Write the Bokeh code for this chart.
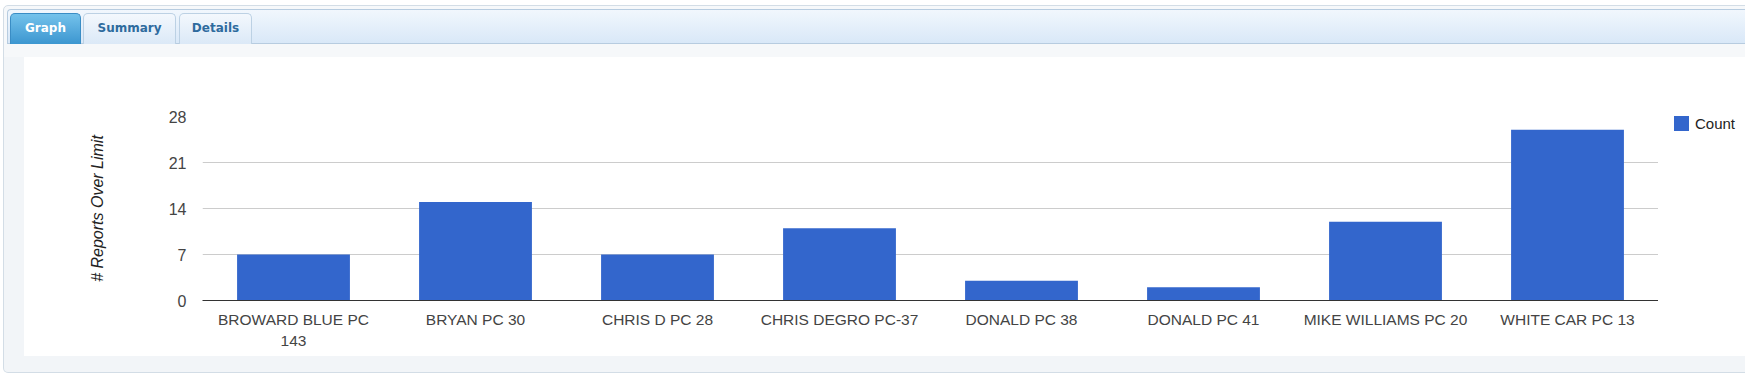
import json
from bokeh.plotting import figure
from bokeh.models import (Range1d, FixedTicker, ColumnDataSource,
                          CategoricalAxis, Div, CustomJSTickFormatter)
from bokeh.layouts import column, row
from bokeh.embed import file_html
from bokeh.resources import INLINE

# ---------------- data ----------------
categories = ["BROWARD BLUE PC 143", "BRYAN PC 30", "CHRIS D PC 28",
              "CHRIS DEGRO PC-37", "DONALD PC 38", "DONALD PC 41",
              "MIKE WILLIAMS PC 20", "WHITE CAR PC 13"]
counts = [7, 15, 7, 11, 3, 2, 12, 26]
y_ticks = [0, 7, 14, 21, 28]
tab_names = ["Graph", "Summary", "Details"]
series_name = "Count"
y_title = "# Reports Over Limit"
# first category label wraps onto two lines in the reference
label_line1 = {categories[0]: "BROWARD BLUE PC"}
label_line2 = {categories[0]: "143"}

FONT = "Liberation Sans"
BAR = "#3366cc"
GRAY = "#f2f5f8"
EDGE = "#d3dde6"

src = ColumnDataSource(dict(cat=categories, count=counts))

p = figure(x_range=categories, y_range=Range1d(0, 28),
           width=1634, height=299, output_backend="svg", toolbar_location=None,
           min_border_left=178, min_border_right=0, min_border_top=59,
           min_border_bottom=56, margin=0)
p.outline_line_color = None
p.border_fill_color = "#ffffff"
p.background_fill_color = "#ffffff"

p.vbar(x="cat", top="count", width=0.62, source=src,
       fill_color=BAR, line_color=None)

# x axis (first line of labels)
p.xaxis.axis_line_color = "#333333"
p.xaxis.major_tick_line_color = None
p.xaxis.minor_tick_line_color = None
p.xaxis.major_label_standoff = 4
p.xaxis.major_label_text_font = FONT
p.xaxis.major_label_text_font_size = "15.5px"
p.xaxis.major_label_text_color = "#444444"
p.xaxis.formatter = CustomJSTickFormatter(
    code=f"const m = {json.dumps(label_line1)}; return (tick in m) ? m[tick] : tick;")

# second line of the wrapped label
ax2 = CategoricalAxis(axis_line_color=None, major_tick_line_color=None,
                      minor_tick_line_color=None, major_label_standoff=-1,
                      major_label_text_font=FONT,
                      major_label_text_font_size="15.5px",
                      major_label_text_color="#444444",
                      formatter=CustomJSTickFormatter(
                          code=f"const m = {json.dumps(label_line2)}; return (tick in m) ? m[tick] : '';"))
p.add_layout(ax2, "below")

# y axis
p.yaxis.ticker = FixedTicker(ticks=y_ticks)
p.yaxis.axis_line_color = None
p.yaxis.major_tick_line_color = None
p.yaxis.minor_tick_line_color = None
p.yaxis.major_tick_out = 0
p.yaxis.major_label_standoff = 16
p.yaxis.major_label_text_font = FONT
p.yaxis.major_label_text_font_size = "16px"
p.yaxis.major_label_text_color = "#444444"
p.yaxis.axis_label = y_title
p.yaxis.axis_label_text_font = FONT
p.yaxis.axis_label_text_font_size = "16px"
p.yaxis.axis_label_text_font_style = "italic"
p.yaxis.axis_label_text_color = "#222222"
p.yaxis.axis_label_standoff = 60

p.xgrid.grid_line_color = None
p.ygrid.ticker = FixedTicker(ticks=y_ticks)
p.ygrid.grid_line_color = "#cccccc"

# ---------------- legend column ----------------
legend_html = (
    '<div style="position:relative;width:87px;height:299px;overflow:hidden;background:#ffffff;">'
    f'<div style="position:absolute;left:16px;top:59px;width:15px;height:15px;background:{BAR};"></div>'
    f'<div style="position:absolute;left:37px;top:58px;height:17px;line-height:17px;'
    f'font-family:\'{FONT}\';font-size:15px;color:#222222;white-space:nowrap;">{series_name}</div>'
    '</div>')
legend_div = Div(text=legend_html, width=87, height=299, margin=0)

# ---------------- page decoration (HTML) ----------------
tab_boxes = [(10, 71), (83, 93), (179, 73)]
tabs_html = ""
for i, (name, (l, w)) in enumerate(zip(tab_names, tab_boxes)):
    if i == 0:
        st = ("border:1px solid #3a8dc5;border-bottom:none;"
              "background:linear-gradient(#74c2eb,#3c96d0);color:#ffffff;")
    else:
        st = ("border:1px solid #bcd1e4;border-bottom:none;"
              "background:linear-gradient(#f3f8fd,#dbe9f7);color:#2e6b9e;")
    tabs_html += (f'<div style="position:absolute;left:{l}px;top:13px;width:{w}px;'
                  f'height:31px;box-sizing:border-box;border-radius:5px 5px 0 0;{st}'
                  f'font-family:\'DejaVu Sans\';font-weight:bold;font-size:12px;'
                  f'line-height:29px;text-align:center;">{name}</div>')

header_html = (
    '<div style="position:relative;width:1745px;height:57px;overflow:hidden;background:#ffffff;">'
    f'<div style="position:absolute;left:3px;top:5px;width:1800px;height:100px;'
    f'box-sizing:border-box;border:1px solid {EDGE};border-radius:5px;'
    'background:linear-gradient(#f6f8fa 60%,#f3f5f8);"></div>'
    '<div style="position:absolute;left:7px;top:9px;width:1800px;height:35px;'
    'box-sizing:border-box;border:1px solid #b7cce0;border-right:none;border-radius:4px 0 0 0;'
    'background:linear-gradient(#f1f7fd,#d9e8f8);"></div>'
    + tabs_html +
    '</div>')
header = Div(text=header_html, width=1745, height=57, margin=0)

left_html = (
    '<div style="position:relative;width:24px;height:299px;overflow:hidden;background:#ffffff;">'
    f'<div style="position:absolute;left:3px;top:0;width:21px;height:299px;'
    f'box-sizing:border-box;border-left:1px solid {EDGE};background:{GRAY};"></div></div>')
left = Div(text=left_html, width=24, height=299, margin=0)

bottom_html = (
    '<div style="position:relative;width:1745px;height:23px;overflow:hidden;background:#ffffff;">'
    f'<div style="position:absolute;left:3px;top:-5px;width:1800px;height:22px;'
    f'box-sizing:border-box;border:1px solid {EDGE};border-top:none;'
    f'border-radius:0 0 0 5px;background:{GRAY};"></div></div>')
bottom = Div(text=bottom_html, width=1745, height=23, margin=0)

layout = column(header, row(left, p, legend_div, spacing=0, margin=0), bottom,
                spacing=0, margin=0)

open("out.html", "w").write(file_html(layout, INLINE))
